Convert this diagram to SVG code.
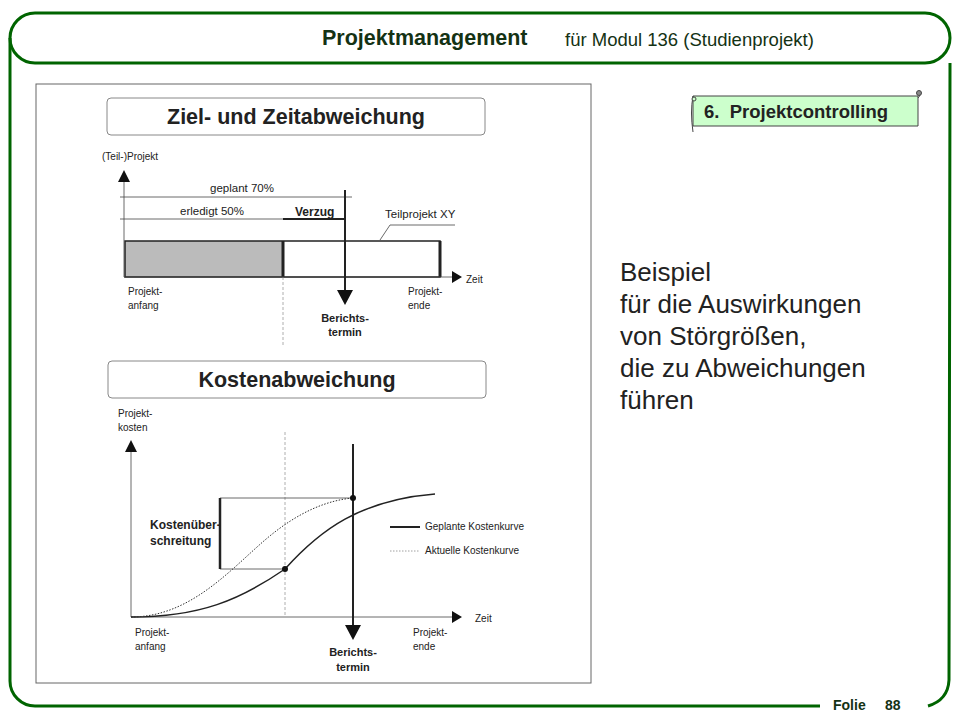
<svg xmlns="http://www.w3.org/2000/svg" width="960" height="720" viewBox="0 0 960 720">
<defs>
<style>
.fr{fill:none;stroke:#006400;stroke-width:3}
.t{font-family:"Liberation Sans",Arial,sans-serif;fill:#222}
.s{font-size:10px}
.m{font-size:11.5px}
.b{font-weight:bold}
.ln{stroke:#222;fill:none}
.thin{stroke:#444;stroke-width:0.8;fill:none}
.gr{stroke:#999;stroke-width:0.8;stroke-dasharray:3 2;fill:none}
.hd{font-family:"Liberation Sans",Arial,sans-serif;fill:#143214}
</style>
</defs>
<rect width="960" height="720" fill="#fff"/>
<g id="frame">
<rect class="fr" x="10" y="13" width="940" height="50" rx="25"/>
<path class="fr" d="M10 38 V681 A25 25 0 0 0 35 706 H820"/>
<path class="fr" d="M928 706 Q948 700 949 680 L950 63"/>
<text class="hd b" x="322" y="45" font-size="21.5">Projektmanagement</text>
<text class="hd" x="565" y="46" font-size="18.5">für  Modul 136 (Studienprojekt)</text>
<text class="hd b" x="833" y="710" font-size="14">Folie</text>
<text class="hd b" x="885" y="710" font-size="14">88</text>
</g>
<g id="chapter">
<path d="M693 96 H918 V126 H693 Z" fill="#ccffcc" stroke="#444"/>
<path d="M693 96 Q690 112 693 132 M918 92 Q922 94 918 98" fill="none" stroke="#444"/>
<circle cx="919" cy="93" r="2.5" fill="#888" stroke="#444"/>
<circle cx="694" cy="99" r="2" fill="#ccffcc" stroke="#444"/>
<text class="t b" x="704" y="118" font-size="18.5" fill="#000" xml:space="preserve">6.  Projektcontrolling</text>
</g>
<g id="panel">
<rect x="36" y="84" width="555" height="599" fill="#fff" stroke="#666"/>
</g>
<g id="title1">
<rect x="107" y="98" width="378" height="37" rx="4" fill="#fff" stroke="#888"/>
<text class="t b" x="296" y="124" font-size="21.5" text-anchor="middle">Ziel- und Zeitabweichung</text>
</g>
<g id="chart1">
<rect x="125" y="241" width="158" height="36" fill="#bbb"/>
<rect x="125" y="241" width="315" height="36" class="ln" stroke-width="1.5"/>
<path class="ln" stroke-width="3" d="M283 241V277M440 241V277"/>
<path class="gr" d="M283 277V345"/>
<path class="thin" d="M124 180V277H452"/>
<path d="M118 182L124 170L130 182Z M452 271L462 277L452 283Z" fill="#111"/>
<path class="thin" d="M120 197H352M120 219H283"/>
<path class="ln" stroke-width="2" d="M283 219H345"/>
<path class="ln" stroke-width="2" d="M345 190V292"/>
<path d="M337 290L345 305L353 290Z" fill="#111"/>
<path class="thin" d="M380 240L390 225H455"/>
<text class="t m" x="210" y="192">geplant 70%</text>
<text class="t m" x="180" y="215">erledigt 50%</text>
<text class="t b" x="295" y="216" font-size="12">Verzug</text>
<text class="t m" x="385" y="218">Teilprojekt XY</text>
<text class="t s" x="102" y="160">(Teil-)Projekt</text>
<text class="t s" x="466" y="283">Zeit</text>
<text class="t s" x="128" y="295">Projekt-</text>
<text class="t s" x="128" y="309">anfang</text>
<text class="t s" x="408" y="295">Projekt-</text>
<text class="t s" x="408" y="309">ende</text>
<text class="t b" x="345" y="322" font-size="11" text-anchor="middle">Berichts-</text>
<text class="t b" x="345" y="336" font-size="11" text-anchor="middle">termin</text>
</g>
<g id="title2">
<rect x="108" y="361" width="378" height="37" rx="4" fill="#fff" stroke="#888"/>
<text class="t b" x="297" y="387" font-size="21.5" text-anchor="middle">Kostenabweichung</text>
</g>
<g id="chart2">
<path class="gr" d="M285 432V617"/>
<path class="thin" d="M131 450V617H452"/>
<path d="M125 452L131 440L137 452Z M452 611L462 617L452 623Z" fill="#111"/>
<path class="ln" stroke-width="1.5" d="M131 617 C200 617 240 600 285 569 C320 530 360 500 435 494"/>
<path d="M131 617 C190 617 230 570 265 540 C300 510 330 500 353 498" fill="none" stroke="#333" stroke-width="1" stroke-dasharray="1.5 1.5"/>
<path class="thin" d="M220 498H353M220 569H285"/>
<path class="ln" stroke-width="2.5" d="M220 498V569"/>
<path class="ln" stroke-width="2" d="M353 444V627"/>
<path d="M345 625L353 640L361 625Z" fill="#111"/>
<circle cx="285" cy="569" r="3" fill="#111"/>
<circle cx="353" cy="498" r="3" fill="#111"/>
<path class="ln" stroke-width="2" d="M390 527H420"/>
<path d="M390 551H420" stroke="#888" stroke-width="0.8" stroke-dasharray="1.5 1.5"/>
<text class="t s" x="425" y="530">Geplante Kostenkurve</text>
<text class="t s" x="425" y="554">Aktuelle Kostenkurve</text>
<text class="t b" x="150" y="529" font-size="12">Kostenüber-</text>
<text class="t b" x="150" y="545" font-size="12">schreitung</text>
<text class="t s" x="118" y="417">Projekt-</text>
<text class="t s" x="118" y="431">kosten</text>
<text class="t s" x="475" y="622">Zeit</text>
<text class="t s" x="135" y="636">Projekt-</text>
<text class="t s" x="135" y="650">anfang</text>
<text class="t s" x="413" y="636">Projekt-</text>
<text class="t s" x="413" y="650">ende</text>
<text class="t b" x="353" y="656" font-size="11" text-anchor="middle">Berichts-</text>
<text class="t b" x="353" y="671" font-size="11" text-anchor="middle">termin</text>
</g>
<g id="desc" class="t" font-size="26" fill="#111">
<text x="620" y="281">Beispiel</text>
<text x="620" y="313">für die Auswirkungen</text>
<text x="620" y="345">von Störgrößen,</text>
<text x="620" y="377">die zu Abweichungen</text>
<text x="620" y="409">führen</text>
</g>
</svg>
